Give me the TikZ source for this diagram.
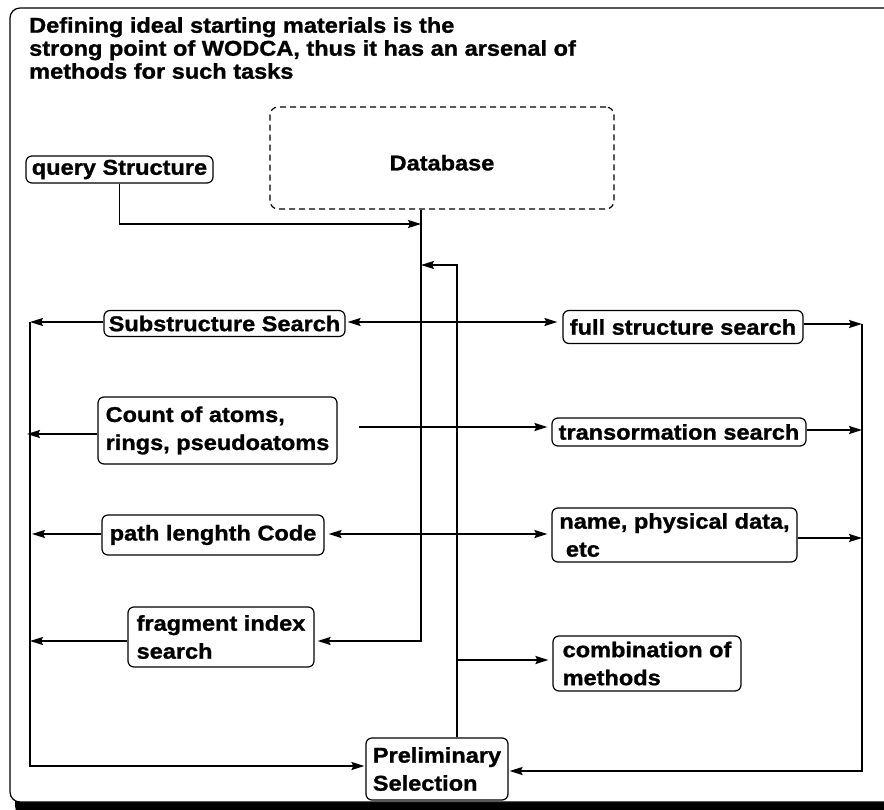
\documentclass[tikz,border=0pt]{standalone}
\usepackage{fontspec}
\usetikzlibrary{arrows.meta}
\newfontfamily\lab{Liberation Sans}[FakeStretch=1.1,FakeBold=1.2]
\newcommand\nodefont{\lab\bfseries\fontsize{21.4}{28}\selectfont}
\newcommand\titlefont{\lab\bfseries\fontsize{21.4}{23}\selectfont}
\begin{document}
\begin{tikzpicture}[x=1pt,y=-1pt,
  box/.style={draw, line width=1.2pt, rounded corners=6pt, fill=white,
    inner sep=0pt, font=\nodefont, align=left},
  tip/.tip={Stealth[length=13pt,width=8pt,inset=2pt]},
  conn/.style={line width=1.8pt, -tip},
  both/.style={line width=1.8pt, tip-tip},
]
\useasboundingbox (0,0) rectangle (884,809);

% outer frame with its drop shadow
\fill[black, rounded corners=10pt] (15,14) rectangle (900,816);
\draw[line width=1.2pt, fill=white, rounded corners=10pt] (10,8) rectangle (895,802);

% heading
\node[font=\titlefont, align=left, anchor=north west, inner sep=0pt] (title) at (29,17)
  {Defining ideal starting materials is the\\
   strong point of WODCA, thus it has an arsenal of\\
   methods for such tasks};

% boxes
\node[box, dash pattern=on 6pt off 4pt, rounded corners=8pt,
      minimum width=344pt, minimum height=102pt, text height=25pt] (db) at (442,158) {Database};
\node[box, minimum width=187pt, minimum height=27pt] (query) at (119.5,169.5) {query Structure};
\node[box, minimum width=241pt, minimum height=26pt] (sub) at (224.5,323.5) {Substructure Search};
\node[box, minimum width=240pt, minimum height=33pt] (full) at (683,327) {full structure search};
\node[box, minimum width=239pt, minimum height=67pt] (count) at (217.5,430.5) {Count of atoms,\\ rings, pseudoatoms};
\node[box, minimum width=254pt, minimum height=28pt] (trans) at (679,432) {transormation search};
\node[box, minimum width=222pt, minimum height=40pt] (path) at (213,535) {path lenghth Code};
\node[box, minimum width=245pt, minimum height=54pt] (name) at (674.5,535) {name, physical data,\\ \ etc};
\node[box, minimum width=186pt, minimum height=60pt] (frag) at (221,637) {fragment index\\ search};
\node[box, minimum width=188pt, minimum height=55pt] (comb) at (647,663.5) {combination of\\ methods};
\node[box, minimum width=142pt, minimum height=62pt] (prelim) at (437,769) {Preliminary\\ Selection};

% bus lines and row levels
\coordinate (tr) at (421,0);
\coordinate (tr2) at (457,0);
\coordinate (lb) at (30,0);
\coordinate (rb) at (862,0);
\coordinate (qin) at (421,224);
\coordinate (back) at (421,265);
\coordinate (r1) at (0,322);
\coordinate (r1r) at (0,324);
\coordinate (cnt) at (359,427);
\coordinate (lb2) at (27,434);
\coordinate (r2r) at (0,430);
\coordinate (r3) at (0,534);
\coordinate (r3r) at (0,538);
\coordinate (r4) at (0,641);
\coordinate (r5) at (0,660);
\coordinate (pl) at (0,766);
\coordinate (pr) at (0,771);

% query into the database line
\draw[conn] (query.south) |- (qin);
% database trunk down to the fragment index search
\draw[conn, shorten >=3pt] (db.south -| tr) |- (frag.east |- r4);
% return from the preliminary selection
\draw[conn] (prelim.north -| tr2) |- (back);
\draw[conn, shorten >=4pt] (tr2 |- r5) -- (comb.west |- r5);

% rows
\draw[both, shorten <=2pt, shorten >=5pt] (sub.east |- r1) -- (full.west |- r1);
\draw[conn] (sub.west |- r1) -- (lb |- r1);
\draw[conn] (full.east |- r1r) -- (rb |- r1r);
\draw[conn, shorten >=4pt] (cnt) -- (trans.west |- cnt);
\draw[conn] (count.west |- lb2) -- (lb2);
\draw[conn] (trans.east |- r2r) -- (rb |- r2r);
\draw[both, shorten <=4pt, shorten >=4pt] (path.east |- r3) -- (name.west |- r3);
\draw[conn, shorten >=2pt] (path.west |- r3) -- (lb |- r3);
\draw[conn] (name.east |- r3r) -- (rb |- r3r);
\draw[conn] (frag.west |- r4) -- (lb |- r4);

% side collectors into the preliminary selection
\draw[conn, shorten >=1pt] (lb |- r1) |- (prelim.west |- pl);
\draw[conn, shorten >=1pt] (rb |- r1r) |- (prelim.east |- pr);
\end{tikzpicture}
\end{document}
